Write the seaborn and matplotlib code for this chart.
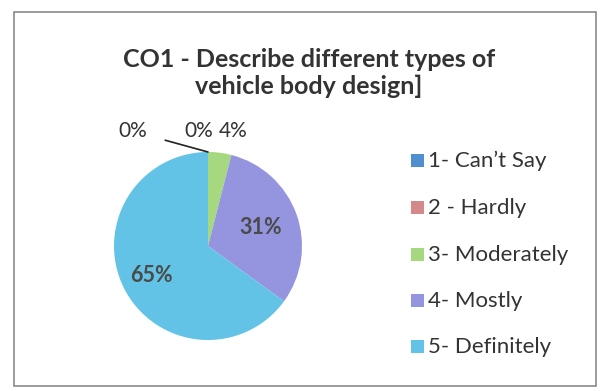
import numpy as np
import matplotlib
matplotlib.use("Agg")
import matplotlib.pyplot as plt
import seaborn as sns
from matplotlib.patches import Rectangle

categories = ["1- Can\u2019t Say", "2 - Hardly", "3- Moderately", "4- Mostly", "5- Definitely"]
shares = [0, 0, 4, 31, 65]
colors = ["#4f8fd0", "#d48a8a", "#a6d87f", "#9595df", "#62c3e6"]
title = "CO1 - Describe different types of\nvehicle body design]"

sns.set_theme(style="white")
plt.rcParams["font.family"] = ["Lato", "DejaVu Sans"]

W, H = 601, 391
fig = plt.figure(figsize=(W / 100, H / 100), dpi=100)
fig.patch.set_facecolor("white")

# frame round the whole chart
fig.add_artist(Rectangle((14 / W, 1 - 386 / H), 582 / W, 374 / H,
                         transform=fig.transFigure, fill=False,
                         edgecolor="#8a8a8a", linewidth=1.2))

fig.text(309 / W, 1 - 73 / H, title, ha="center", va="center",
         fontsize=18, fontweight="bold", color="#333333", linespacing=1.2)

# pie: centre at (208, 246) px, radius 94 px
cx, cy, r = 208, 246, 94
ax = fig.add_axes([(cx - r) / W, 1 - (cy + r) / H, 2 * r / W, 2 * r / H])
wedges, _ = ax.pie(shares, colors=colors, startangle=90, counterclock=False,
                   wedgeprops=dict(linewidth=0))
ax.set_xlim(-1, 1)
ax.set_ylim(-1, 1)
ax.set_aspect("equal")

def mid_angle(w):
    return np.deg2rad((w.theta1 + w.theta2) / 2)

# labels for the large slices, inside the pie
for w, v, d in zip(wedges[3:], shares[3:], [0.59, 0.68]):
    a = mid_angle(w)
    ax.text(d * np.cos(a), d * np.sin(a), f"{v}%", ha="center", va="center",
            fontsize=15.5, fontweight="bold", color="#4a4a4a")

# small slices: labels above the top of the pie
ax.text(0.27, 1.22, f"{shares[2]}%", ha="center", va="center",
        fontsize=15, color="#333333")
ax.text(-0.1, 1.22, f"{shares[1]}%", ha="center", va="center",
        fontsize=15, color="#333333")
ax.annotate(f"{shares[0]}%", xy=(0, 1), xytext=(-0.8, 1.22), ha="center", va="center",
            fontsize=15, color="#333333",
            arrowprops=dict(arrowstyle="-", color="#222222", lw=1.2,
                            shrinkA=11, shrinkB=0))

# legend
ys = [161, 208, 255, 301, 347]
for lab, col, y in zip(categories, colors, ys):
    fig.add_artist(Rectangle((411 / W, 1 - (y + 6) / H), 13 / W, 13 / H,
                             transform=fig.transFigure, facecolor=col, edgecolor="none"))
    fig.text(428 / W, 1 - y / H, lab, ha="left", va="center",
             fontsize=16, color="#333333")

fig.savefig("out.png", dpi=100, facecolor="white")
